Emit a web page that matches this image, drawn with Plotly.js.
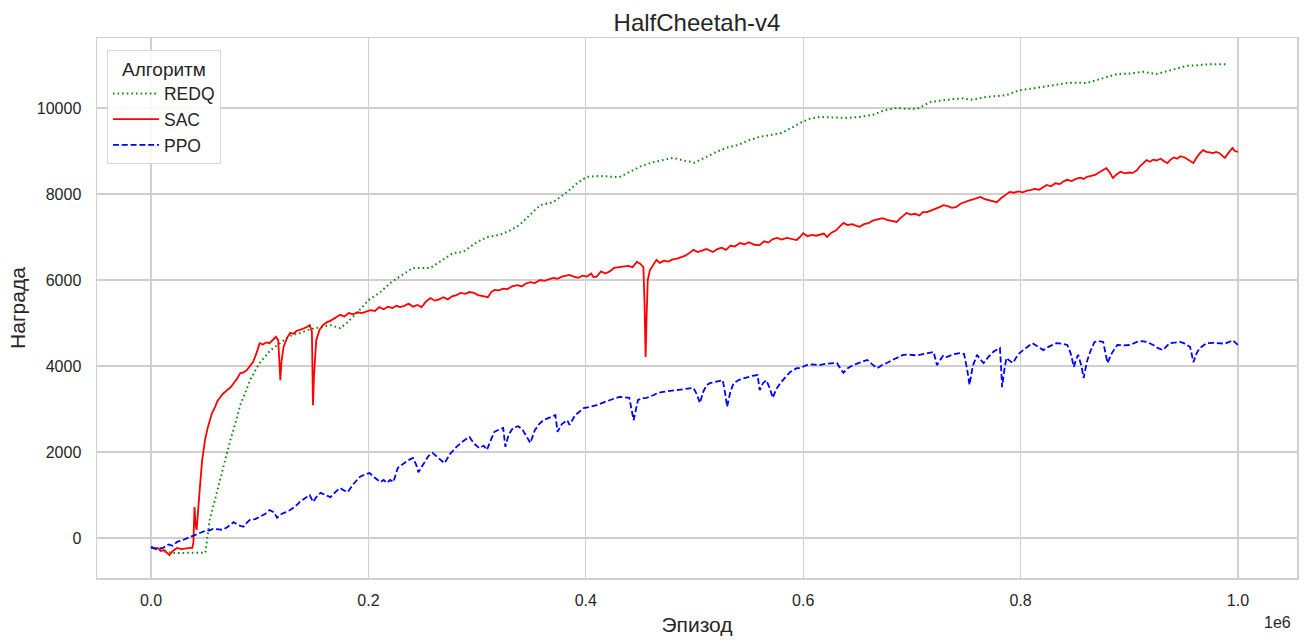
<!DOCTYPE html>
<html>
<head>
<meta charset="utf-8">
<script src="https://cdn.plot.ly/plotly-3.0.1.min.js"></script>
<style>html,body{margin:0;padding:0;background:#fff;}#chart{width:1311px;height:640px;}</style>
</head>
<body>
<div id="chart"></div>
<script>
// Episode values in thousands, rewards
const redqX = [0,10,20,30,40,50,54,59,63,68,73,78,82,87,91,96,100,110,119,128,137,146,155,165,174,180,190,200,211,220,230,241,257,267,278,287,298,309,321,330,339,348,358,370,383,392,401,413,425,431,440,451,462,472,480,490,500,510,520,530,540,550,560,570,580,590,597,606,615,630,640,652,665,675,686,695,705,717,727,738,747,756,766,777,787,795,801,812,822,832,843,852,861,870,880,889,900,913,925,935,945,953,965,975,990];
const redqY = [-230,-300,-350,-350,-350,-340,420,900,1350,1800,2280,2700,3090,3400,3670,3900,4070,4370,4530,4700,4770,4850,4900,4950,4880,5000,5250,5530,5720,5930,6100,6280,6280,6450,6630,6650,6850,7000,7050,7150,7280,7500,7740,7810,8050,8250,8400,8420,8400,8390,8510,8650,8740,8800,8840,8780,8730,8850,8980,9080,9140,9250,9330,9370,9420,9550,9650,9750,9790,9780,9770,9790,9850,9950,10000,9980,9980,10140,10180,10210,10220,10190,10250,10280,10300,10380,10420,10460,10500,10550,10580,10590,10580,10650,10730,10790,10800,10840,10790,10860,10940,10980,11000,11020,11020];

const sacX = [0,3,6,9,12,15,17,20,24,28,32,36,38,39,40,41,42,43,45,47,49.7,52,54,56,59,61,63,66,70,73,76,79,82,85,88,91,94,97,100,103,106,109,112,115,117,119,120,122,125,128,131,134,137,140,143,146,148,149,150,152,155,158,162,165,168,171,174,178,182,186,190,194,198,202,206,210,214,218,222,226,229,233,237,241,245,249,253,257,261,265,269,273,277,281,285,289,293,297,301,305,310,313,316,320,324,328,332,337,341,345,349,353,358,362,366,370,374,378,382,385,389,393,397,401,405,407,410,414,418,422,426,431,435,439,443,447,450,453,454,455,456,457,459,462,465,468,472,476,480,484,487,491,495,499,503,507,511,517,521,525,529,533,537,542,546,550,555,560,564,568,572,576,580,585,589,594,597,600,604,608,612,615,619,622,626,630,634,637,641,645,649,652,656,660,664,668,673,677,681,686,690,695,699,703,707,710,714,718,722,726,729,733,737,741,745,749,753,757,760,763,767,771,775,778,782,786,790,794,798,802,806,809,813,817,820,824,828,832,836,840,843,847,851,855,858,861,865,869,872,876,879,882,885,888,892,896,900,903,907,910,913,916,919,922,925,929,932,935,938,941,944,947,951,955,959,962,965,968,971,974,977,980,983,986,988,991,993,995,997,1000];
const sacY = [-200,-250,-230,-300,-280,-350,-400,-300,-230,-260,-240,-230,-230,-100,720,300,190,600,1190,1800,2280,2550,2740,2900,3050,3180,3250,3350,3440,3500,3600,3700,3830,3850,3900,4000,4100,4300,4530,4500,4550,4530,4600,4680,4600,3670,4100,4450,4650,4770,4750,4820,4840,4870,4900,4950,4800,3090,3800,4600,4840,4950,5020,5050,5100,5130,5190,5150,5230,5200,5250,5230,5260,5300,5280,5370,5320,5380,5350,5400,5370,5400,5450,5380,5420,5370,5500,5580,5520,5550,5600,5550,5620,5650,5700,5680,5720,5700,5650,5630,5600,5720,5770,5760,5800,5790,5850,5880,5850,5920,5950,5930,6000,5980,6020,6050,6030,6080,6100,6120,6080,6050,6100,6080,6150,6070,6080,6200,6150,6200,6280,6300,6320,6330,6300,6420,6380,6300,5500,4210,5200,6000,6230,6350,6470,6400,6450,6430,6480,6500,6530,6560,6620,6700,6650,6680,6720,6650,6720,6750,6700,6800,6780,6860,6830,6880,6820,6810,6900,6870,6950,6980,6940,6980,6950,6930,7000,7090,7020,7050,7030,7050,7080,7000,7100,7150,7250,7330,7280,7300,7260,7240,7300,7320,7380,7400,7440,7400,7380,7350,7450,7560,7520,7540,7500,7580,7580,7620,7650,7700,7740,7720,7680,7700,7780,7820,7850,7880,7900,7930,7880,7850,7830,7810,7900,7980,8050,8030,8060,8040,8080,8090,8120,8100,8150,8210,8180,8250,8230,8300,8330,8300,8350,8380,8350,8400,8420,8450,8500,8550,8600,8500,8370,8450,8520,8480,8500,8490,8550,8650,8720,8790,8750,8800,8780,8820,8760,8720,8800,8850,8820,8880,8850,8780,8720,8850,8950,9020,8980,8970,8950,8980,8950,8880,8840,8950,9020,9070,9000,8980];

const ppoX = [0,5,11,16,20,24,28,32,36,40,45,50,54,57,62,66,70,76,80,85,88,91,96,100,105,109,113,116,120,124,128,133,137,142,146,149,153,156,160,165,170,174,178,181,186,192,197,201,206,211,214,217,220,223,227,231,236,241,244,246,250,255,259,263,267,270,275,281,287,293,297,302,306,309,313,316,320,324,326,329,333,338,342,346,349,353,357,361,366,372,374,378,383,385,390,395,398,404,410,416,422,427,431,436,440,444,448,452,456,462,467,471,477,482,487,493,499,502,505,508,511,514,520,526,528,530,533,536,541,548,553,558,560,563,566,569,572,575,579,584,588,594,597,603,609,615,620,625,631,634,637,641,646,652,659,663,668,673,677,683,688,692,697,702,707,713,718,720,723,726,729,732,738,744,748,751,753,756,760,763,766,770,775,778,781,782,783,785,787,790,793,796,799,805,811,816,821,826,833,838,843,846,849,851,853,856,858,861,864,868,872,876,878,880,884,889,895,901,907,912,916,922,926,931,937,942,947,951,956,959,962,965,971,977,983,988,992,995,1000];
const ppoY = [-210,-250,-230,-150,-180,-90,-60,-20,20,60,120,170,180,210,200,190,250,370,300,260,350,420,440,490,560,650,600,470,560,600,650,740,840,930,1000,840,980,1050,1000,950,1080,1160,1100,1070,1250,1420,1480,1510,1400,1300,1350,1280,1350,1300,1630,1700,1800,1860,1700,1530,1700,1900,1980,1900,1820,1740,1950,2120,2250,2350,2200,2090,2150,2050,2300,2470,2520,2560,2120,2400,2560,2600,2510,2350,2210,2500,2650,2740,2800,2860,2470,2650,2740,2630,2850,2950,3020,3050,3090,3150,3210,3250,3280,3270,3260,2740,3210,3250,3260,3320,3380,3400,3420,3430,3440,3470,3490,3350,3140,3400,3550,3600,3640,3670,3400,3050,3400,3600,3680,3740,3770,3790,3440,3600,3670,3500,3260,3450,3600,3750,3860,3950,3950,4020,4040,4020,4050,4060,4070,3950,3840,3950,4020,4080,4140,4050,3950,4030,4070,4150,4220,4260,4270,4250,4260,4300,4320,4330,4020,4150,4250,4210,4270,4300,4280,3900,3560,4000,4260,4150,4070,4200,4330,4380,4420,4000,3510,3900,4190,4120,4070,4200,4300,4420,4530,4450,4370,4450,4530,4520,4490,4300,3980,4150,4260,4000,3720,4100,4330,4560,4580,4560,4300,4070,4300,4490,4480,4490,4560,4580,4560,4490,4420,4370,4530,4550,4560,4520,4440,4090,4300,4420,4530,4540,4530,4520,4560,4600,4490];

const seriesNames = ['REDQ','SAC','PPO'];
const xTickVals = [0,200000,400000,600000,800000,1000000];
const xTickText = ['0.0','0.2','0.4','0.6','0.8','1.0'];
const yTickVals = [0,2000,4000,6000,8000,10000];
const yTickText = ['0','2000','4000','6000','8000','10000'];

const k = a => a.map(v => v*1000);
const FONT = '"Liberation Sans", Arial, sans-serif';
const TXT = '#262626';

const traces = [
  {x:k(redqX), y:redqY, name:seriesNames[0], mode:'lines', line:{color:'#108a10', width:2, dash:'1.6px,3px'}},
  {x:k(sacX), y:sacY, name:seriesNames[1], mode:'lines', line:{color:'#ff0000', width:1.8}},
  {x:k(ppoX), y:ppoY, name:seriesNames[2], mode:'lines', line:{color:'#0000ff', width:1.8, dash:'6px,2.8px'}}
];

const layout = {
  width:1311, height:640,
  margin:{l:97, r:14, t:38, b:62},
  paper_bgcolor:'#ffffff', plot_bgcolor:'#ffffff',
  font:{family:FONT, color:TXT, size:16},
  title:{text:'HalfCheetah-v4', font:{size:24, color:TXT, family:FONT}, xref:'paper', x:0.5, xanchor:'center', yref:'container', y:0.965, yanchor:'middle'},
  xaxis:{
    range:[-49700, 1054300], tickvals:xTickVals, ticktext:xTickText,
    showgrid:true, gridcolor:'#d0d0d0', gridwidth:1.2, zeroline:false,
    showline:true, linecolor:'#d0d0d0', linewidth:1.5, mirror:true, ticks:'',
    ticklabelstandoff:7,
    tickfont:{size:16, color:TXT},
    title:{text:'Эпизод', font:{size:21, color:TXT}, standoff:9}
  },
  yaxis:{
    range:[-930, 11628], tickvals:yTickVals, ticktext:yTickText,
    showgrid:true, gridcolor:'#d0d0d0', gridwidth:1.2, zeroline:false,
    showline:true, linecolor:'#d0d0d0', linewidth:1.5, mirror:true,
    ticks:'outside', ticklen:11, tickcolor:'rgba(0,0,0,0)',
    tickfont:{size:16, color:TXT},
    title:{text:'Награда', font:{size:21, color:TXT}, standoff:5}
  },
  legend:{
    x:0.0083, y:0.978, xanchor:'left', yanchor:'top',
    bgcolor:'rgba(255,255,255,0.85)', bordercolor:'#d6d6d6', borderwidth:1,
    font:{size:17.5, color:TXT},
    title:{text:'Алгоритм', font:{size:19, color:TXT}, side:'top center'},
    itemwidth:46,
    tracegroupgap:6
  },
  annotations:[{text:'1e6', xref:'paper', yref:'paper', x:0.9967, y:-0.0815, xanchor:'right', yanchor:'middle', showarrow:false, font:{size:16, color:TXT}}],
  showlegend:true
};

Plotly.newPlot('chart', traces, layout, {displayModeBar:false, staticPlot:true});
</script>
</body>
</html>
